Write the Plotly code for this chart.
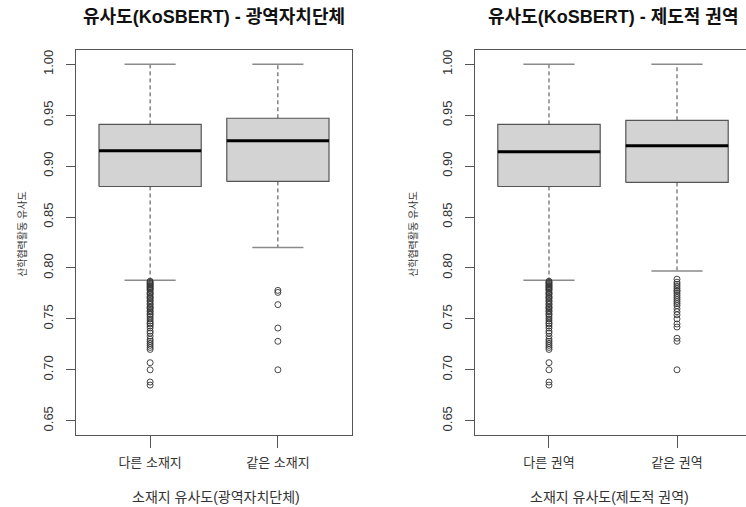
import plotly.graph_objects as go

# ---- data -------------------------------------------------------------
positions = [1, 2]

left_labels = ["다른 소재지", "같은 소재지"]
left_lower = [0.788, 0.820]
left_q1 = [0.880, 0.885]
left_median = [0.915, 0.925]
left_q3 = [0.941, 0.947]
left_upper = [1.000, 1.000]

right_labels = ["다른 권역", "같은 권역"]
right_lower = [0.788, 0.797]
right_q1 = [0.880, 0.884]
right_median = [0.914, 0.920]
right_q3 = [0.941, 0.945]
right_upper = [1.000, 1.000]

# outliers of the "different" groups (same in both panels)
diff_outliers = [0.787, 0.786, 0.785, 0.784, 0.783, 0.782, 0.781, 0.780, 0.779,
                 0.778, 0.776, 0.775, 0.774, 0.772, 0.771, 0.770, 0.768, 0.767,
                 0.765, 0.764, 0.762, 0.761, 0.760, 0.758, 0.757, 0.755, 0.754,
                 0.752, 0.750, 0.748, 0.746, 0.745, 0.743, 0.741, 0.738, 0.736,
                 0.733, 0.730, 0.728, 0.726, 0.724, 0.722, 0.720, 0.707, 0.700,
                 0.688, 0.685]
left_same_outliers = [0.778, 0.776, 0.764, 0.741, 0.728, 0.700]
right_same_outliers = [0.789, 0.786, 0.784, 0.782, 0.780, 0.778, 0.777, 0.775,
                       0.773, 0.771, 0.769, 0.767, 0.765, 0.763, 0.760, 0.757,
                       0.754, 0.750, 0.745, 0.742, 0.731, 0.728, 0.700]

y_ticks = [0.65, 0.70, 0.75, 0.80, 0.85, 0.90, 0.95, 1.00]

titles = ["유사도(KoSBERT) - 광역자치단체", "유사도(KoSBERT) - 제도적 권역"]
x_titles = ["소재지 유사도(광역자치단체)", "소재지 유사도(제도적 권역)"]
y_title = "산학협력활동 유사도"

# ---- styling ----------------------------------------------------------
W, H = 746, 507
FONT = "Liberation Sans, Arial, Noto Sans CJK KR"
BOX_HALF = 0.4
CAP_HALF = 0.2
BOX_FILL = "#d3d3d3"
EDGE = "#555555"

fig = go.Figure()


def add_panel(xa, ya, lower, q1, med, q3, upper, outliers):
    for i, p in enumerate(positions):
        # box body
        fig.add_trace(go.Scatter(
            x=[p - BOX_HALF, p + BOX_HALF, p + BOX_HALF, p - BOX_HALF, p - BOX_HALF],
            y=[q1[i], q1[i], q3[i], q3[i], q1[i]],
            mode="lines", fill="toself", fillcolor=BOX_FILL,
            line=dict(color=EDGE, width=1.2),
            xaxis=xa, yaxis=ya, hoverinfo="skip", showlegend=False))
        # median
        fig.add_trace(go.Scatter(
            x=[p - BOX_HALF, p + BOX_HALF], y=[med[i], med[i]],
            mode="lines", line=dict(color="#000000", width=3),
            xaxis=xa, yaxis=ya, hoverinfo="skip", showlegend=False))
        # whiskers
        for a, b in ((q3[i], upper[i]), (q1[i], lower[i])):
            fig.add_trace(go.Scatter(
                x=[p, p], y=[a, b], mode="lines",
                line=dict(color="#444444", width=1, dash="4px,3px"),
                xaxis=xa, yaxis=ya, hoverinfo="skip", showlegend=False))
        # whisker caps
        for v in (upper[i], lower[i]):
            fig.add_trace(go.Scatter(
                x=[p - CAP_HALF, p + CAP_HALF], y=[v, v], mode="lines",
                line=dict(color="#8a8a8a", width=1.5),
                xaxis=xa, yaxis=ya, hoverinfo="skip", showlegend=False))
        # outliers
        fig.add_trace(go.Scatter(
            x=[p] * len(outliers[i]), y=outliers[i], mode="markers",
            marker=dict(symbol="circle-open", size=6, color="#333333",
                        line=dict(color="#333333", width=0.9)),
            xaxis=xa, yaxis=ya, hoverinfo="skip", showlegend=False))


add_panel("x", "y", left_lower, left_q1, left_median, left_q3, left_upper,
          [diff_outliers, left_same_outliers])
add_panel("x2", "y2", right_lower, right_q1, right_median, right_q3, right_upper,
          [diff_outliers, right_same_outliers])

y_dom = [1 - 435 / H, 1 - 50 / H]


def xaxis(domain, rng, labels):
    return dict(domain=domain, range=rng, tickvals=positions, ticktext=labels,
                showline=True, mirror=True, linecolor="#555555", linewidth=1,
                ticks="outside", ticklen=12, tickcolor="#555555",
                showgrid=False, zeroline=False,
                tickfont=dict(family=FONT, size=13, color="#333333"),
                ticklabelstandoff=3, fixedrange=True)


def yaxis(anchor):
    return dict(domain=y_dom, range=[0.636, 1.014], anchor=anchor,
                tickvals=y_ticks, tickformat=".2f", tickangle=-90,
                showline=True, mirror=True, linecolor="#555555", linewidth=1,
                ticks="outside", ticklen=9, tickcolor="#555555",
                showgrid=False, zeroline=False,
                tickfont=dict(family=FONT, size=13, color="#333333"),
                ticklabelstandoff=8, fixedrange=True)


fig.update_layout(
    width=W, height=H,
    margin=dict(l=0, r=0, t=0, b=0),
    paper_bgcolor="white", plot_bgcolor="white",
    xaxis=xaxis([76 / W, 352 / W], [0.42, 2.58], left_labels) | dict(anchor="y"),
    yaxis=yaxis("x"),
    xaxis2=xaxis([475 / W, 1.0], [0.422, 2.539], right_labels) | dict(anchor="y2"),
    yaxis2=yaxis("x2"),
)

# panel titles and axis titles
for cx, t in zip([214, 613], titles):
    fig.add_annotation(text=f"<b>{t}</b>", x=cx / W, y=1 - 17 / H,
                       xref="paper", yref="paper", showarrow=False,
                       xanchor="center", yanchor="middle",
                       font=dict(family=FONT, size=18, color="#111111"))
for cx, t in zip([216, 609], x_titles):
    fig.add_annotation(text=t, x=cx / W, y=1 - 497 / H,
                       xref="paper", yref="paper", showarrow=False,
                       xanchor="center", yanchor="middle",
                       font=dict(family=FONT, size=14, color="#333333"))
for cx in [22, 413]:
    fig.add_annotation(text=y_title, x=cx / W, y=1 - 234 / H, textangle=-90,
                       xref="paper", yref="paper", showarrow=False,
                       xanchor="center", yanchor="middle",
                       font=dict(family=FONT, size=10, color="#333333"))

fig.write_html("out.html")
